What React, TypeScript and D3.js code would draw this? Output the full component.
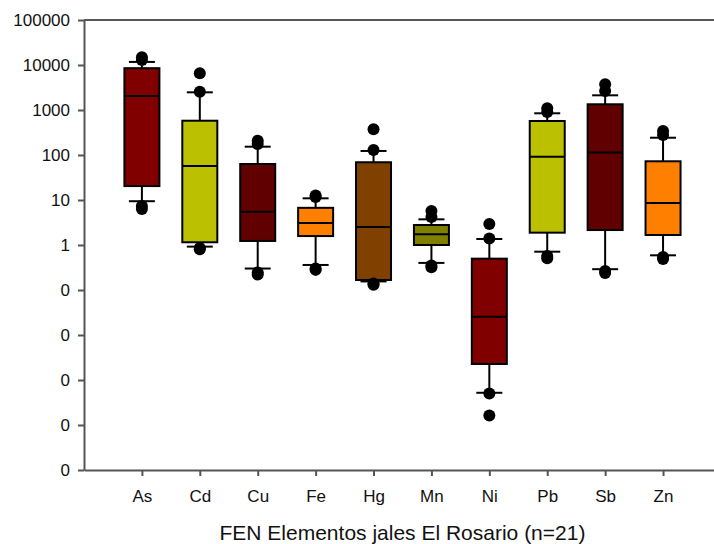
import { useRef, useEffect } from "react";
import * as d3 from "d3";

// element order along the x axis
const elements = ["As", "Cd", "Cu", "Fe", "Hg", "Mn", "Ni", "Pb", "Sb", "Zn"];
const boxColors = [
  "#800000", "#bbc000", "#600000", "#ff8000", "#804000",
  "#808000", "#800000", "#bbc000", "#600000", "#ff8000",
];

// box statistics (FEN values)
const q1 = [20.4, 1.15, 1.23, 1.58, 0.167, 1.0, 0.00227, 1.88, 2.15, 1.67];
const median = [2050, 57, 5.5, 3.1, 2.5, 1.73, 0.0255, 92, 113, 8.6];
const q3 = [8500, 578, 63, 6.7, 69, 2.78, 0.497, 570, 1340, 72.5];
const whiskerLow = [9.4, 0.92, 0.3, 0.36, 0.155, 0.4, 0.00052, 0.71, 0.29, 0.59];
const whiskerHigh = [11700, 2470, 153, 10.9, 123, 3.72, 1.36, 845, 2120, 242];
const outliersHigh = [
  [14800, 12900], [6560, 2550], [208, 175], [12.6, 11.7], [372, 129],
  [5.7, 4.2], [2.93, 1.4], [1095, 900], [3720, 2650], [340, 277],
];
const outliersLow = [
  [7.4, 6.3], [0.86, 0.8], [0.245, 0.22], [0.3, 0.28], [0.14, 0.13],
  [0.35, 0.32], [0.0005, 0.000162], [0.51, 0.57], [0.265, 0.24], [0.54, 0.49],
];

const yTicks = [1e5, 1e4, 1e3, 100, 10, 1, 0.1, 0.01, 0.001, 0.0001, 0.00001];
const xTitle = "FEN Elementos jales El Rosario (n=21)";

const W = 714;
const H = 544;
const FONT = "Arial, 'Liberation Sans', sans-serif";

const BoxChart = () => {
  const svgRef = useRef<SVGSVGElement>(null);

  useEffect(() => {
    document.body.style.margin = "0";
    const svg = d3.select(svgRef.current);
    svg.selectAll("*").remove();

    const left = 84, right = 714, top = 20, bottom = 470;

    const x = d3.scaleLinear().domain([0, 10.88]).range([left, right]);
    const y = d3.scaleLog().domain([1e-5, 1e5]).range([bottom, top]);
    const fmt = d3.format(".0f");

    const boxW = 35;
    const capW = 26;

    // frame lines
    svg.append("line")
      .attr("x1", left).attr("x2", right).attr("y1", top).attr("y2", top)
      .attr("stroke", "#222").attr("stroke-width", 1.5);

    // y axis
    const yAxis = svg.append("g").attr("transform", `translate(${left},0)`)
      .call(d3.axisLeft(y).tickValues(yTicks).tickFormat((d: any) => fmt(d)).tickSize(6).tickSizeOuter(0));
    yAxis.select(".domain").attr("stroke", "#555").attr("stroke-width", 2);
    yAxis.selectAll(".tick line").attr("stroke", "#555").attr("stroke-width", 2);
    yAxis.selectAll(".tick text")
      .attr("x", -14)
      .attr("fill", "#111")
      .style("font", `17px ${FONT}`);

    // x axis
    const xAxis = svg.append("g").attr("transform", `translate(0,${bottom})`)
      .call(d3.axisBottom(x).tickValues(elements.map((_, i) => i + 1))
        .tickFormat((_, i) => elements[i]).tickSize(6).tickSizeOuter(0));
    xAxis.select(".domain").attr("stroke", "#555").attr("stroke-width", 2);
    xAxis.selectAll(".tick line").attr("stroke", "#555").attr("stroke-width", 2);
    xAxis.selectAll(".tick text")
      .attr("y", 20)
      .attr("fill", "#111")
      .style("font", `17px ${FONT}`);

    // boxes
    const g = svg.append("g");
    elements.forEach((_, i) => {
      const cx = x(i + 1);
      // whiskers
      g.append("line")
        .attr("x1", cx).attr("x2", cx)
        .attr("y1", y(whiskerHigh[i])).attr("y2", y(q3[i]))
        .attr("stroke", "#000").attr("stroke-width", 2);
      g.append("line")
        .attr("x1", cx).attr("x2", cx)
        .attr("y1", y(q1[i])).attr("y2", y(whiskerLow[i]))
        .attr("stroke", "#000").attr("stroke-width", 2);
      [whiskerHigh[i], whiskerLow[i]].forEach((v) => {
        g.append("line")
          .attr("x1", cx - capW / 2).attr("x2", cx + capW / 2)
          .attr("y1", y(v)).attr("y2", y(v))
          .attr("stroke", "#000").attr("stroke-width", 2);
      });
      // box
      g.append("rect")
        .attr("x", cx - boxW / 2).attr("width", boxW)
        .attr("y", y(q3[i])).attr("height", y(q1[i]) - y(q3[i]))
        .attr("fill", boxColors[i])
        .attr("stroke", "#000").attr("stroke-width", 2);
      g.append("line")
        .attr("x1", cx - boxW / 2).attr("x2", cx + boxW / 2)
        .attr("y1", y(median[i])).attr("y2", y(median[i]))
        .attr("stroke", "#000").attr("stroke-width", 2);
      // outliers
      [...outliersHigh[i], ...outliersLow[i]].forEach((v) => {
        g.append("circle")
          .attr("cx", cx).attr("cy", y(v)).attr("r", 6)
          .attr("fill", "#000");
      });
    });

    // axis title
    svg.append("text")
      .attr("x", (x(1) + x(10)) / 2).attr("y", 540)
      .attr("text-anchor", "middle")
      .attr("fill", "#111")
      .style("font", `21px ${FONT}`)
      .text(xTitle);

    return () => {
      svg.selectAll("*").remove();
    };
  }, []);

  return <svg ref={svgRef} width={W} height={H} style={{ display: "block" }}></svg>;
};

export default function App() {
  return <BoxChart />;
}
